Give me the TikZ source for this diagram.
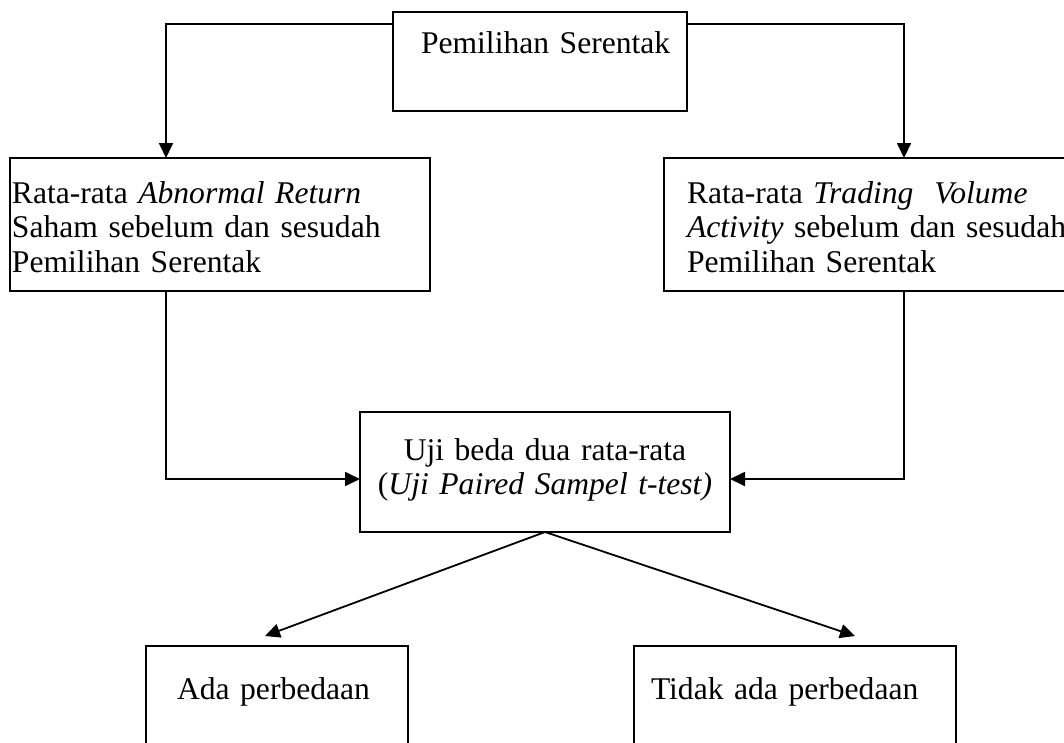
\documentclass[tikz,border=0pt]{standalone}
\usepackage{fontspec}
\setmainfont{Liberation Serif}
\usetikzlibrary{positioning,arrows.meta}

\begin{document}
\begin{tikzpicture}[x=1pt, y=-1pt,
          kotak/.style = {shape=rectangle, draw, line width=1.8pt,
            outer sep=0pt, inner ysep=0pt, align=left, anchor=north west,
            font=\fontsize{31.6}{34.5}\selectfont},
          panah/.style = {line width=1.8pt,
            -{Triangle[length=15pt,width=14pt]}}]
          \useasboundingbox (0,0) rectangle (1064,742);
          % kotak atas
          \node[kotak, inner xsep=14pt, text width=266pt,
            text height=41pt, text depth=58pt] (pemilihan) at (393,12)
            {\hspace*{14pt}Pemilihan Serentak};
          % dua variabel
          \node[kotak, inner xsep=2pt, text width=416pt,
            text height=45pt, text depth=88pt] (abnormal) at (10,158)
            {Rata-rata \textit{Abnormal Return}\\
             Saham sebelum dan sesudah\\
             Pemilihan Serentak};
          \node[kotak, inner xsep=23pt, text width=400pt,
            text height=45pt, text depth=88pt] (trading) at (664,158)
            {Rata-rata \textit{Trading}\ \ \textit{Volume}\\
             \textit{Activity} sebelum dan sesudah\\
             Pemilihan Serentak};
          % uji beda
          \node[kotak, align=center, inner xsep=0pt, text width=370pt,
            text height=48pt, text depth=72pt] (uji) at (360,412)
            {Uji beda dua rata-rata\\
             (\textit{Uji Paired Sampel t-test)}};
          % hasil
          \node[kotak, inner xsep=31pt, text width=200pt,
            text height=53pt, text depth=120pt] (ada) at (146,646)
            {Ada perbedaan};
          \node[kotak, inner xsep=17pt, text width=288pt,
            text height=53pt, text depth=120pt] (tidak) at (634,646)
            {Tidak ada perbedaan};

          \draw[panah] ([yshift=-12pt]pemilihan.north west) -| ([xshift=156pt]abnormal.north west);
          \draw[panah] ([yshift=-12pt]pemilihan.north east) -| ([xshift=240pt]trading.north west);
          \draw[panah] ([xshift=156pt]abnormal.south west) |- ([yshift=-7pt]uji.west);
          \draw[panah] ([xshift=240pt]trading.south west) |- ([yshift=-7pt]uji.east);
          \draw[panah] (uji.south) -- ([shift={(-12pt,10pt)}]ada.north);
          \draw[panah] (uji.south) -- ([shift={(60pt,10pt)}]tidak.north);
        \end{tikzpicture}
\end{document}
